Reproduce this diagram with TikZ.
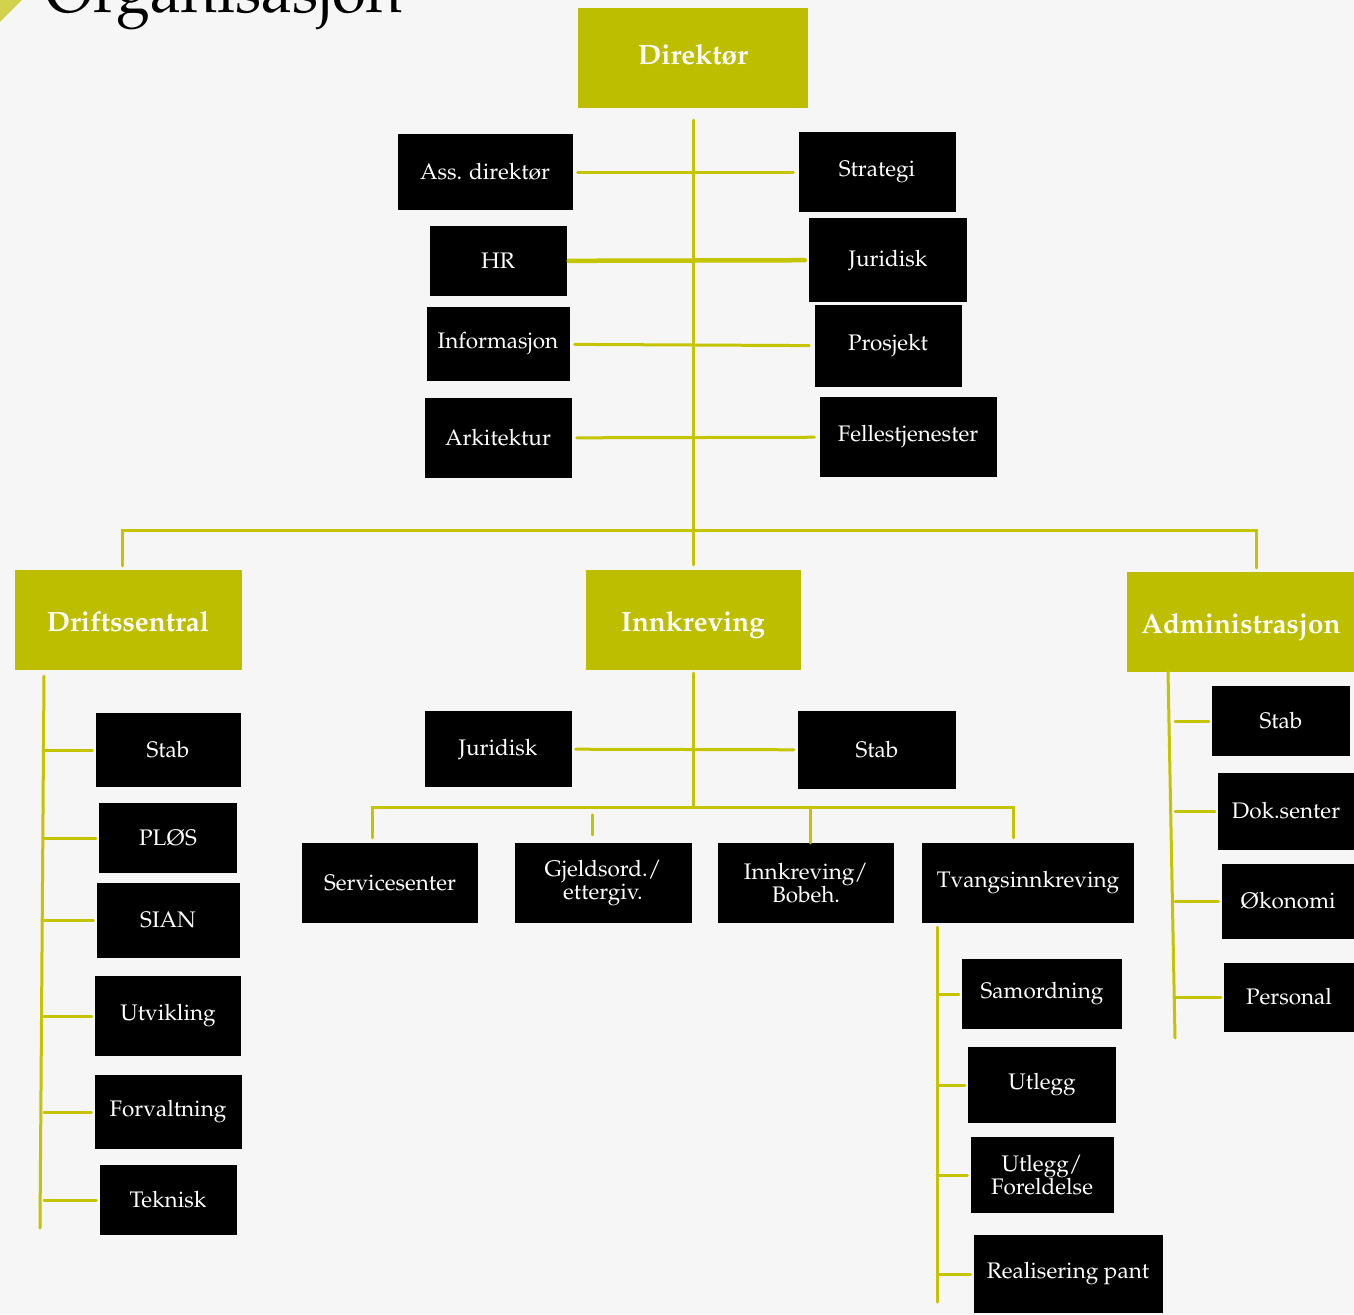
\documentclass[tikz,border=0pt]{standalone}
\usepackage[T1]{fontenc}
\usepackage{mathpazo}
\usepackage{tikz}
\definecolor{orgbg}{HTML}{F6F6F6}
\definecolor{orgolive}{HTML}{BEBE00}
\definecolor{orgline}{HTML}{C4C400}

\begin{document}
\begin{tikzpicture}[x=1pt,y=-1pt,
    box/.style={fill=black,text=white,inner sep=0pt,align=center,
      font=\fontsize{22.5}{23.5}\selectfont},
    head/.style={fill=orgolive,text=white,inner sep=0pt,
      text height=23pt,text depth=0pt,
      font=\bfseries\fontsize{27.8}{30}\selectfont},
    conn/.style={draw=orgline,line width=3pt,line cap=round}]
    \fill[orgbg] (0,0) rectangle (1354,1314);
    \useasboundingbox (0,0) rectangle (1354,1314);
    \fill[orgolive!70] (0,0) -- (22,0) -- (0,22) -- cycle;
    \node[anchor=base west,inner sep=0pt,font=\fontsize{61.5}{64}\selectfont] (title) at (45,13) {Organisasjon};

    % top level
    \node[head,minimum width=230pt,minimum height=100pt] (dir) at (693,58) {\raisebox{5pt}{Direkt\o r}};
    \node[box,minimum width=175pt,minimum height=76pt] (ass) at (485,172) {Ass. direkt\o r};
    \node[box,minimum width=137pt,minimum height=70pt] (hr) at (498,261) {HR};
    \node[box,minimum width=143pt,minimum height=74pt] (info) at (498,344) {Informasjon};
    \node[box,minimum width=147pt,minimum height=80pt] (ark) at (498,438) {Arkitektur};
    \node[box,minimum width=157pt,minimum height=80pt] (strat) at (877,172) {Strategi};
    \node[box,minimum width=158pt,minimum height=84pt] (jur) at (888,260) {Juridisk};
    \node[box,minimum width=147pt,minimum height=82pt] (pros) at (888,346) {Prosjekt};
    \node[box,minimum width=177pt,minimum height=80pt] (fell) at (908,437) {Fellestjenester};

    % divisions
    \node[head,minimum width=227pt,minimum height=100pt] (drift) at (128,620) {Driftssentral};
    \node[head,minimum width=215pt,minimum height=100pt] (innk) at (693,620) {Innkreving};
    \node[head,minimum width=228pt,minimum height=100pt] (admin) at (1241,622) {Administrasjon};

    % Driftssentral
    \node[box,minimum width=145pt,minimum height=74pt] (ds1) at (168,750) {Stab};
    \node[box,minimum width=138pt,minimum height=70pt] (ds2) at (168,838) {PL\O S};
    \node[box,minimum width=143pt,minimum height=75pt] (ds3) at (168,920) {SIAN};
    \node[box,minimum width=146pt,minimum height=80pt] (ds4) at (168,1016) {Utvikling};
    \node[box,minimum width=147pt,minimum height=74pt] (ds5) at (168,1112) {Forvaltning};
    \node[box,minimum width=137pt,minimum height=70pt] (ds6) at (168,1200) {Teknisk};

    % Innkreving
    \node[box,minimum width=147pt,minimum height=76pt] (ijur) at (498,749) {Juridisk};
    \node[box,minimum width=158pt,minimum height=78pt] (istab) at (877,750) {Stab};
    \node[box,minimum width=176pt,minimum height=80pt] (serv) at (390,883) {Servicesenter};
    \node[box,minimum width=177pt,minimum height=80pt] (gjeld) at (603,883) {Gjeldsord./\\ettergiv.};
    \node[box,minimum width=176pt,minimum height=80pt] (bobeh) at (806,883) {Innkreving/\\Bobeh.};
    \node[box,minimum width=212pt,minimum height=80pt] (tvang) at (1028,883) {Tvangsinnkreving};
    \node[box,minimum width=160pt,minimum height=70pt] (samo) at (1042,994) {Samordning};
    \node[box,minimum width=148pt,minimum height=76pt] (utl) at (1042,1085) {Utlegg};
    \node[box,minimum width=143pt,minimum height=76pt] (fore) at (1042,1175) {Utlegg/\\Foreldelse};
    \node[box,minimum width=189pt,minimum height=78pt] (pant) at (1068,1274) {Realisering pant};

    % Administrasjon
    \node[box,minimum width=138pt,minimum height=70pt] (as1) at (1281,721) {Stab};
    \node[box,minimum width=136pt,minimum height=77pt] (as2) at (1286,811) {Dok.senter};
    \node[box,minimum width=133pt,minimum height=75pt] (as3) at (1288,901) {\O konomi};
    \node[box,minimum width=130pt,minimum height=69pt] (as4) at (1289,997) {Personal};

    % connectors
    \coordinate (bus) at (693,530);
    \coordinate (bus2) at (693,807);
    \draw[conn,shorten <=12pt,shorten >=5pt] (dir) -- (innk);
    \foreach \a/\b in {ass/strat,info/pros,ark/fell}
      \draw[conn,shorten <=5pt,shorten >=5pt] (\a) -- (\b);
    \draw[conn,line width=4.5pt,shorten <=2pt,shorten >=4pt] (hr) -- (jur);
    \draw[conn,shorten <=4pt,shorten >=4pt] ([xshift=-6pt]drift.north)
      -- ([xshift=-6pt]drift.north |- bus) -- ([xshift=15pt]admin.north |- bus)
      -- ([xshift=15pt]admin.north);

    \coordinate (dtop) at (44,676);
    \coordinate (dbot) at (40,1228);
    \draw[conn] (dtop) -- (dbot);
    \foreach \n in {ds1,ds2,ds3,ds4,ds5,ds6}
      \draw[conn,shorten <=3pt] (\n.west) -- (\n.west -| dtop);

    \coordinate (atop) at (1168,671);
    \coordinate (abot) at (1175,1038);
    \draw[conn] (atop) -- (abot);
    \foreach \n in {as1,as2,as3,as4}
      \draw[conn,shorten <=3pt] (\n.west) -- (\n.west -| abot);

    \draw[conn,shorten <=3pt] (innk.south) -- (innk.south |- bus2);
    \draw[conn,shorten <=4pt,shorten >=4pt] (ijur) -- (istab);
    \draw[conn,shorten <=5pt,shorten >=5pt] ([xshift=-18pt]serv.north)
      -- ([xshift=-18pt]serv.north |- bus2) -- ([xshift=-15pt]tvang.north |- bus2)
      -- ([xshift=-15pt]tvang.north);
    \draw[conn] (bobeh.north) ++(4pt,0) -- ([xshift=4pt]bobeh.north |- bus2);
    \draw[conn] ([xshift=-11pt,yshift=8pt]gjeld.north) -- ([xshift=-11pt,yshift=28pt]gjeld.north);

    \coordinate (ttop) at (937,927);
    \coordinate (tbot) at (937,1302);
    \draw[conn] (ttop) -- (tbot);
    \foreach \n in {samo,utl,fore,pant}
      \draw[conn,shorten <=3pt] (\n.west) -- (\n.west -| ttop);
\end{tikzpicture}
\end{document}
